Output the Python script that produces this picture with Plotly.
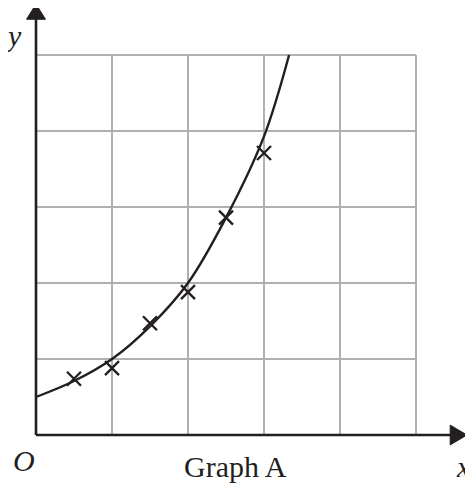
import plotly.graph_objects as go

# data (grid units)
point_x = [0.5, 1.0, 1.5, 2.0, 2.5, 3.0]
point_y = [0.74, 0.88, 1.47, 1.88, 2.86, 3.71]

curve_x = [0.0, 0.5, 1.0, 1.5, 2.0, 2.5, 3.0, 3.33]
curve_y = [0.5, 0.71, 1.0, 1.43, 2.0, 2.86, 3.93, 5.0]

grid_ticks = [0, 1, 2, 3, 4, 5]

INK = "#231f20"
GRID = "#b0b0b4"
FONT = "Liberation Serif"

fig = go.Figure()

fig.add_trace(go.Scatter(x=curve_x, y=curve_y, mode="lines",
                         line=dict(color=INK, width=2.4, shape="spline", smoothing=1.0),
                         hoverinfo="skip", showlegend=False))
fig.add_trace(go.Scatter(x=point_x, y=point_y, mode="markers",
                         marker=dict(symbol="x-thin", size=14, line=dict(color=INK, width=2.3)),
                         showlegend=False))

shapes = []
gmax = grid_ticks[-1]
for t in grid_ticks[1:]:
    shapes.append(dict(type="line", x0=t, x1=t, y0=0, y1=gmax, line=dict(color=GRID, width=2), layer="below"))
    shapes.append(dict(type="line", x0=0, x1=gmax, y0=t, y1=t, line=dict(color=GRID, width=2), layer="below"))
# axes
shapes.append(dict(type="line", x0=0, x1=5.5, y0=0, y1=0, line=dict(color=INK, width=2.6)))
shapes.append(dict(type="line", x0=0, x1=0, y0=0, y1=5.5, line=dict(color=INK, width=2.6)))
# arrowheads
shapes.append(dict(type="path", path="M 5.45 0.13 L 5.67 0 L 5.45 -0.13 Z", fillcolor=INK, line=dict(color=INK, width=1)))
shapes.append(dict(type="path", path="M -0.125 5.47 L 0 5.67 L 0.125 5.47 Z", fillcolor=INK, line=dict(color=INK, width=1)))

annotations = [
    dict(x=-0.29, y=5.26, text="<i>y</i>", showarrow=False, font=dict(family=FONT, size=30, color=INK)),
    dict(x=5.62, y=-0.41, text="<i>x</i>", showarrow=False, font=dict(family=FONT, size=30, color=INK)),
    dict(x=-0.16, y=-0.33, text="<i>O</i>", showarrow=False, font=dict(family=FONT, size=30, color=INK)),
    dict(x=2.63, y=-0.41, text="Graph A", showarrow=False, font=dict(family=FONT, size=30, color=INK)),
]

# the page body adds an 8px offset, so the figure covers reference pixels 8..473 / 8..486
fig.update_layout(
    width=465, height=478,
    margin=dict(l=0, r=0, t=0, b=0),
    paper_bgcolor="white", plot_bgcolor="white",
    xaxis=dict(range=[(8 - 36) / 76, (473 - 36) / 76], visible=False, fixedrange=True),
    yaxis=dict(range=[(435 - 486) / 76, (435 - 8) / 76], visible=False, fixedrange=True),
    shapes=shapes, annotations=annotations,
    showlegend=False,
)

fig.write_html("out.html")
